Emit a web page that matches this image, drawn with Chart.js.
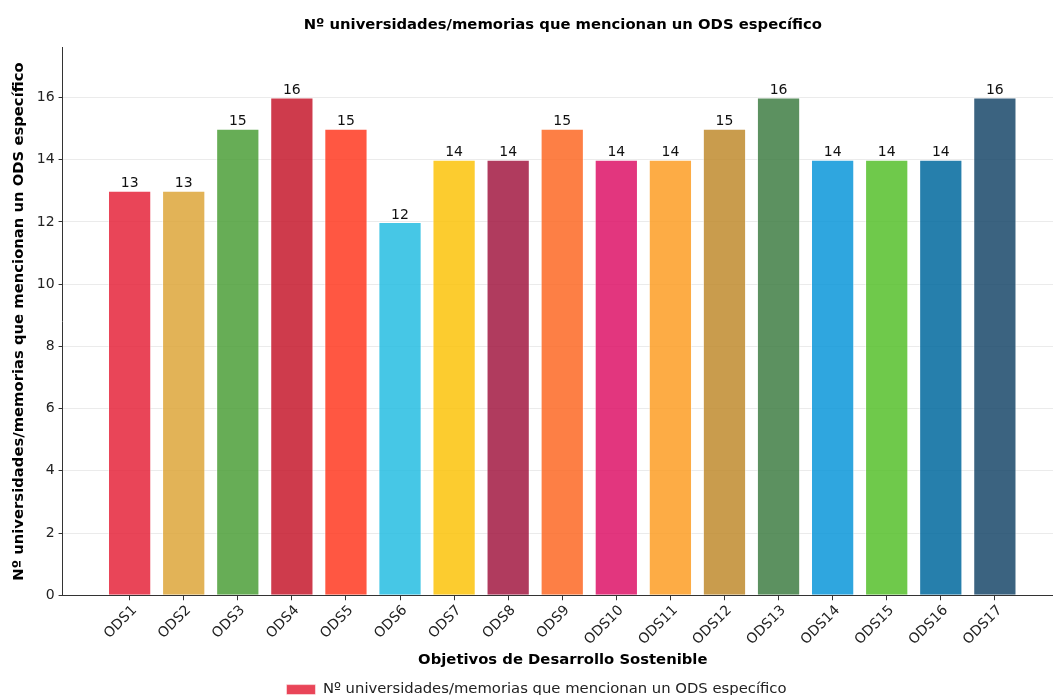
<!DOCTYPE html>
<html>
<head>
<meta charset="utf-8">
<script src="https://cdn.jsdelivr.net/npm/chart.js@4.4.0/dist/chart.umd.min.js"></script>
<style>
  html, body { margin: 0; padding: 0; background: #fff; overflow: hidden; }
  #wrap { width: 1063px; height: 707px; }
</style>
</head>
<body>
<div id="wrap"><canvas id="odsChart" width="1063" height="707"></canvas></div>
<script>
  // Datos
  var categories = ['ODS1', 'ODS2', 'ODS3', 'ODS4', 'ODS5', 'ODS6', 'ODS7', 'ODS8', 'ODS9',
    'ODS10', 'ODS11', 'ODS12', 'ODS13', 'ODS14', 'ODS15', 'ODS16', 'ODS17'];
  var counts = [13, 13, 15, 16, 15, 12, 14, 14, 15, 14, 14, 15, 16, 14, 14, 14, 16];
  var yTicks = [0, 2, 4, 6, 8, 10, 12, 14, 16];
  var odsColors = ['#E5243B', '#DDA63A', '#4C9F38', '#C5192D', '#FF3A21', '#26BDE2', '#FCC30B',
    '#A21942', '#FD6925', '#DD1367', '#FD9D24', '#BF8B2E', '#3F7E44', '#0A97D9', '#56C02B',
    '#00689D', '#19486A'];

  var seriesLabel = 'Nº universidades/memorias que mencionan un ODS específico';
  var FONT = "'DejaVu Sans', sans-serif";

  function withAlpha(hex, a) {
    var r = parseInt(hex.slice(1, 3), 16);
    var g = parseInt(hex.slice(3, 5), 16);
    var b = parseInt(hex.slice(5, 7), 16);
    return 'rgba(' + r + ',' + g + ',' + b + ',' + a + ')';
  }

  var points = counts.map(function (v, i) {
    return { x: i, y: v };
  });

  // Etiquetas de valor encima de cada barra
  var valueLabels = {
    id: 'valueLabels',
    afterDatasetsDraw: function (chart) {
      var ctx = chart.ctx;
      var meta = chart.getDatasetMeta(0);
      ctx.save();
      ctx.font = '14px ' + FONT;
      ctx.fillStyle = '#111';
      ctx.textAlign = 'center';
      ctx.textBaseline = 'bottom';
      meta.data.forEach(function (bar, i) {
        ctx.fillText(String(counts[i]), bar.x, bar.y);
      });
      ctx.restore();
    }
  };

  new Chart(document.getElementById('odsChart').getContext('2d'), {
    type: 'bar',
    data: {
      datasets: [{
        label: seriesLabel,
        data: points,
        backgroundColor: odsColors.map(function (c) { return withAlpha(c, 0.85); }),
        borderColor: 'rgba(255,255,255,0.5)',
        borderWidth: 1,
        barPercentage: 0.8,
        categoryPercentage: 1.0
      }]
    },
    plugins: [valueLabels],
    options: {
      responsive: false,
      animation: false,
      layout: { padding: { left: 10, right: 0, top: 0, bottom: 0 } },
      plugins: {
        title: {
          display: true,
          fullSize: false,
          text: seriesLabel,
          color: '#000',
          font: { family: FONT, size: 14.8, weight: 'bold' },
          padding: { top: 16, bottom: 14 }
        },
        legend: {
          position: 'bottom',
          labels: {
            color: '#222',
            font: { family: FONT, size: 14.8 },
            boxWidth: 29,
            boxHeight: 10,
            padding: 2
          }
        },
        tooltip: { enabled: false }
      },
      scales: {
        x: {
          type: 'linear',
          min: -1.24,
          max: 17.26,
          offset: false,
          afterBuildTicks: function (scale) {
            scale.ticks = categories.map(function (c, i) { return { value: i }; });
          },
          ticks: {
            color: '#222',
            font: { family: FONT, size: 14 },
            maxRotation: 45,
            minRotation: 45,
            autoSkip: false,
            padding: 2,
            labelOffset: 5,
            callback: function (val) {
              return categories[val] || '';
            }
          },
          grid: {
            offset: false,
            drawOnChartArea: false,
            tickColor: '#333',
            tickLength: 5
          },
          border: { color: '#333', width: 1 },
          title: {
            display: true,
            text: 'Objetivos de Desarrollo Sostenible',
            color: '#000',
            font: { family: FONT, size: 14.8, weight: 'bold' },
            padding: { top: 1, bottom: 11 }
          }
        },
        y: {
          min: 0,
          max: 17.6,
          afterBuildTicks: function (scale) {
            scale.ticks = yTicks.map(function (v) { return { value: v }; });
          },
          ticks: {
            color: '#222',
            font: { family: FONT, size: 14 },
            padding: 4
          },
          grid: {
            color: 'rgba(0,0,0,0.08)',
            tickColor: '#333',
            tickLength: 4
          },
          border: { color: '#333', width: 1 },
          title: {
            display: true,
            text: seriesLabel,
            color: '#000',
            font: { family: FONT, size: 14.8, weight: 'bold' },
            padding: { top: 0, bottom: 5 }
          }
        }
      }
    }
  });
</script>
</body>
</html>
